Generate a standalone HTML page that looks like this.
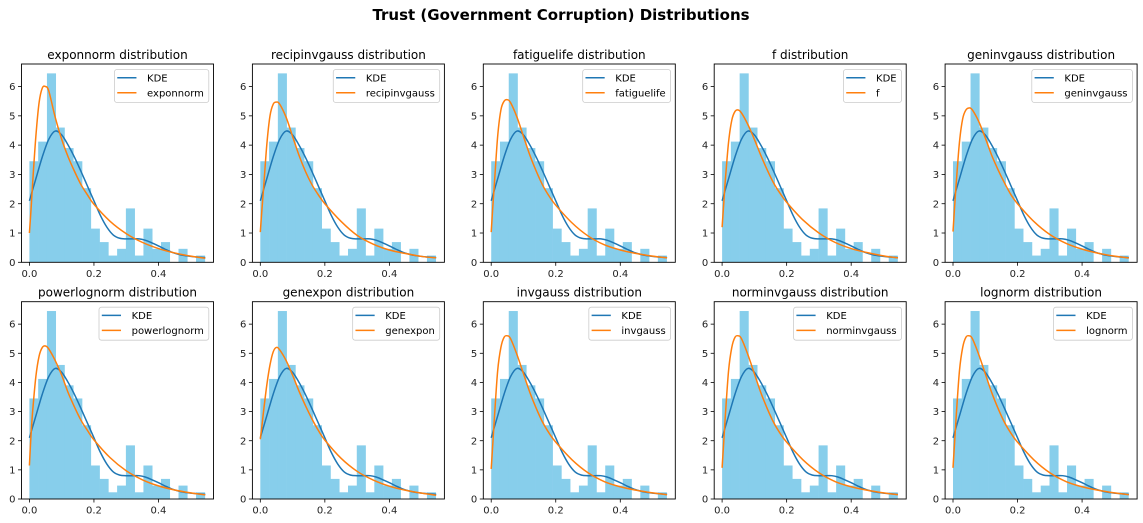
<!DOCTYPE html>
<html><head><meta charset="utf-8"><style>
html,body{margin:0;padding:0;background:#fff;}
svg{display:block;font-family:"DejaVu Sans","Liberation Sans",sans-serif;}
</style></head><body>
<svg id="fig" width="1143" height="523" viewBox="0 0 1143 523" xmlns="http://www.w3.org/2000/svg">
<text x="561" y="20" text-anchor="middle" font-size="15" font-weight="bold" fill="#000">Trust (Government Corruption) Distributions</text>
</svg>
<script>
const binEdgesStart = 0;
const binWidth = 0.02718;
const histHeights = [3.45,4.12,6.45,4.6,3.9,3.45,2.53,1.15,0.69,0.23,0.46,1.84,0.23,1.15,0.46,0.69,0,0.46,0,0.23];
const curveX = [0,0.005,0.01,0.02,0.03,0.04,0.05,0.06,0.08,0.1,0.12,0.14,0.16,0.18,0.2,0.25,0.3,0.35,0.4,0.45,0.5,0.545];
const kdeX = [0,0.02,0.04,0.06,0.08,0.1,0.12,0.14,0.16,0.18,0.2,0.22,0.24,0.26,0.28,0.3,0.32,0.34,0.36,0.38,0.4,0.42,0.44,0.46,0.48,0.5,0.52,0.545];
const kdeY = [2.1,2.85,3.6,4.2,4.48,4.35,4.0,3.58,3.1,2.6,2.1,1.6,1.2,0.93,0.82,0.8,0.8,0.8,0.75,0.66,0.56,0.45,0.35,0.28,0.23,0.2,0.18,0.16];
const distNames = ["exponnorm","recipinvgauss","fatiguelife","f","geninvgauss","powerlognorm","genexpon","invgauss","norminvgauss","lognorm"];
const fitExponnorm = [1.0,1.8,2.7,4.3,5.45,5.95,6.0,5.85,4.95,4.2,3.6,3.1,2.65,2.3,1.98,1.4,0.98,0.68,0.47,0.32,0.21,0.14];
const fitRecipinvgauss = [1.03,1.8,2.5,4.0,5.0,5.4,5.47,5.4,4.95,4.3,3.65,3.1,2.65,2.3,2.0,1.4,0.92,0.62,0.42,0.3,0.2,0.15];
const fitFatiguelife = [1.03,1.9,2.7,4.3,5.2,5.5,5.55,5.45,4.95,4.3,3.65,3.1,2.62,2.25,1.95,1.35,0.9,0.6,0.42,0.3,0.21,0.15];
const fitF = [1.2,2.0,2.8,4.1,4.85,5.15,5.2,5.1,4.7,4.2,3.65,3.15,2.7,2.35,2.05,1.45,1.0,0.68,0.47,0.33,0.22,0.15];
const fitGeninvgauss = [1.05,1.9,2.7,4.1,4.9,5.2,5.27,5.2,4.8,4.25,3.65,3.15,2.7,2.3,2.0,1.4,0.95,0.65,0.45,0.31,0.21,0.15];
const fitPowerlognorm = [1.15,2.2,3.0,4.2,4.9,5.2,5.25,5.15,4.75,4.25,3.65,3.15,2.7,2.35,2.03,1.42,0.97,0.66,0.45,0.31,0.21,0.14];
const fitGenexpon = [2.05,2.5,3.0,3.9,4.6,5.05,5.2,5.12,4.75,4.25,3.7,3.2,2.75,2.35,2.02,1.4,0.95,0.65,0.44,0.3,0.2,0.13];
const fitInvgauss = [1.03,1.9,2.8,4.4,5.2,5.55,5.6,5.5,4.95,4.3,3.65,3.1,2.62,2.25,1.95,1.35,0.9,0.6,0.42,0.3,0.21,0.15];
const fitNorminvgauss = [1.07,1.95,2.85,4.4,5.2,5.55,5.6,5.5,4.95,4.3,3.65,3.1,2.62,2.25,1.95,1.35,0.9,0.6,0.42,0.3,0.21,0.15];
const fitLognorm = [1.07,1.95,2.85,4.4,5.2,5.55,5.6,5.5,4.95,4.3,3.65,3.1,2.62,2.25,1.95,1.35,0.9,0.6,0.42,0.3,0.21,0.15];
const fits = [fitExponnorm,fitRecipinvgauss,fitFatiguelife,fitF,fitGeninvgauss,fitPowerlognorm,fitGenexpon,fitInvgauss,fitNorminvgauss,fitLognorm];
const yTicks = [0,1,2,3,4,5,6];
const xTicks = [0,0.2,0.4];
const xTickLabels = ["0.0","0.2","0.4"];

const NS="http://www.w3.org/2000/svg";
const svg=document.getElementById('fig');
function mk(tag,attrs,parent){const e=document.createElementNS(NS,tag);for(const k in attrs)e.setAttribute(k,attrs[k]);(parent||svg).appendChild(e);return e;}
function pathFrom(xs,ys,sx,sy){
  const P=xs.map((x,i)=>[sx(x),sy(ys[i])]);
  let d='M'+P[0][0].toFixed(2)+','+P[0][1].toFixed(2);
  for(let i=0;i<P.length-1;i++){
    const p0=P[Math.max(0,i-1)],p1=P[i],p2=P[i+1],p3=P[Math.min(P.length-1,i+2)];
    const c1=[p1[0]+(p2[0]-p0[0])/6,p1[1]+(p2[1]-p0[1])/6];
    const c2=[p2[0]-(p3[0]-p1[0])/6,p2[1]-(p3[1]-p1[1])/6];
    d+=' C'+c1.map(v=>v.toFixed(2)).join(',')+' '+c2.map(v=>v.toFixed(2)).join(',')+' '+p2.map(v=>v.toFixed(2)).join(',');
  }
  return d;
}
const W=192, XMIN=-0.0245, XMAX=0.5705, YMAX=6.77;
for(let k=0;k<10;k++){
  const row=Math.floor(k/5), col=k%5;
  const L=21.5+col*230.9, R=L+W;
  const T=row===0?64:301.7, B=row===0?262.3:499;
  const sx=x=>L+(x-XMIN)/(XMAX-XMIN)*W;
  const sy=y=>B-y/YMAX*(B-T);
  const g=mk('g',{});
  
  
  const title=mk('text',{x:(L+R)/2,y:T-5,'text-anchor':'middle','font-size':'12',fill:'#000'},g);
  title.textContent=distNames[k]+' distribution';
  
  
  histHeights.forEach((h,i)=>{
    if(h<=0)return;
    const x0=binEdgesStart+i*binWidth;
    const r=mk('rect',{x:sx(x0),y:sy(h),width:sx(x0+binWidth)-sx(x0)+0.3,height:sy(0)-sy(h),fill:'#87ceeb'},g);
    
    
  });
  const kde=mk('path',{d:pathFrom(kdeX,kdeY,sx,sy),fill:'none',stroke:'#1f77b4','stroke-width':1.5},g);
  
  
  const fit=mk('path',{d:pathFrom(curveX,fits[k],sx,sy),fill:'none',stroke:'#ff7f0e','stroke-width':1.5},g);
  
  
  const frame=mk('rect',{x:L,y:T,width:W,height:B-T,fill:'none',stroke:'#000','stroke-width':0.9},g);
  
  
  yTicks.forEach(v=>{
    const y=sy(v);
    mk('line',{x1:L-3.5,x2:L,y1:y,y2:y,stroke:'#000','stroke-width':0.8},g);
    const t=mk('text',{x:L-6,y:y+3.6,'text-anchor':'end','font-size':'10',fill:'#222'},g);
    t.textContent=String(v);
    
    
  });
  xTicks.forEach((v,i)=>{
    const x=sx(v);
    mk('line',{x1:x,x2:x,y1:B,y2:B+3.5,stroke:'#000','stroke-width':0.8},g);
    const t=mk('text',{x:x,y:B+14.5,'text-anchor':'middle','font-size':'10',fill:'#222'},g);
    t.textContent=xTickLabels[i];
    
    
  });
  const lg=mk('g',{},g);
  
  
  const box=mk('rect',{y:T+5.5,height:33,rx:2.5,fill:'#fff','fill-opacity':0.8,stroke:'#ccc','stroke-width':0.8},lg);
  const t1=mk('text',{y:T+17.5,'font-size':'10',fill:'#000'},lg);t1.textContent='KDE';
  const t2=mk('text',{y:T+32.3,'font-size':'10',fill:'#000'},lg);t2.textContent=distNames[k];
  const tw=Math.max(t1.getComputedTextLength(),t2.getComputedTextLength());
  const bw=tw+37.5, bx=R-4.7-bw;
  box.setAttribute('x',bx);box.setAttribute('width',bw);
  t1.setAttribute('x',bx+32.6);t2.setAttribute('x',bx+32.6);
  mk('line',{x1:bx+2.8,x2:bx+22,y1:T+13.7,y2:T+13.7,stroke:'#1f77b4','stroke-width':1.5},lg);
  mk('line',{x1:bx+2.8,x2:bx+22,y1:T+28.7,y2:T+28.7,stroke:'#ff7f0e','stroke-width':1.5},lg);
}
</script>
</body></html>
